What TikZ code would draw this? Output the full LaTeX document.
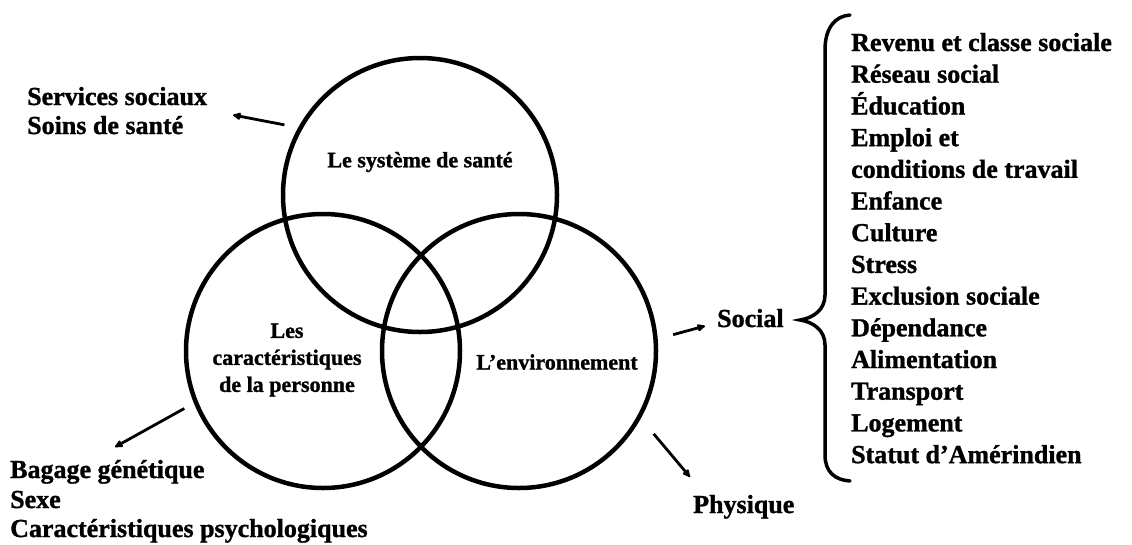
\documentclass[tikz,border=0pt]{standalone}
\usepackage{fontspec}
\setmainfont[BoldFeatures={FakeBold=1.2}]{Liberation Serif}
\usetikzlibrary{arrows.meta}
\begin{document}
\begin{tikzpicture}[x=1pt,y=-1pt,
  ring/.style={circle, draw, line width=4.5pt, minimum size=274pt, inner sep=0pt},
  lbl/.style={font=\fontsize{26}{31}\selectfont\bfseries, inner sep=0pt, anchor=base west},
  inlbl/.style={font=\fontsize{22}{27}\selectfont\bfseries, inner sep=0pt, align=center},
  ptr/.style={line width=2.8pt, -{Latex[length=10pt,width=9pt,round]}},
]
\useasboundingbox (0,0) rectangle (1132,544);

% the three overlapping domains
\node[ring] (sys)  at (420,195) {};
\node[ring] (pers) at (323,351) {};
\node[ring] (env)  at (519,351) {};

\node[inlbl] (lsys)  at (420,162) {Le système de santé};
\node[inlbl] (lpers) at (287,360) {Les\\caractéristiques\\de la personne};
\node[inlbl] (lenv)  at (557,362) {L’environnement};

% outer labels
\node[lbl] (serv)  at (27,105) {Services sociaux};
\node[lbl] (soins) at (27,134) {Soins de santé};
\node[lbl] (bag)   at (10,478) {Bagage génétique};
\node[lbl] (sexe)  at (10,508) {Sexe};
\node[lbl] (carac) at (10,537) {Caractéristiques psychologiques};
\node[lbl] (social) at (717,327) {Social};
\node[lbl] (phys)  at (693,513) {Physique};

% social determinants
\foreach \t [count=\i] in {Revenu et classe sociale, Réseau social, Éducation,
  Emploi et, conditions de travail, Enfance, Culture, Stress,
  Exclusion sociale, Dépendance, Alimentation, Transport, Logement,
  Statut d’Amérindien}
  \node[lbl] (item\i) at (851,{51+31.7*(\i-1)}) {\t};

% pointer ends
\coordinate (servtip) at (233,115);
\coordinate (bagtip)  at (115,447);
\coordinate (soctip)  at (705,326);
\coordinate (phystip) at (690,477);

\draw[ptr, shorten <=14pt] (sys.151) -- (servtip);
\draw[ptr, shorten <=11pt] (pers.202) -- (bagtip);
\draw[ptr, shorten <=16pt] (env.5) -- (soctip);
\draw[ptr, shorten <=20pt] (env.-29) -- (phystip);

% curly brace
\coordinate (bracetip) at (800,320);
\draw[line width=3.5pt, line cap=round]
  (850,15) .. controls (835,16) and (825,28) .. (825,50) -- (825,295)
  .. controls (825,310) and (813,318) .. (bracetip)
  .. controls (813,322) and (825,330) .. (825,345) -- (825,455)
  .. controls (825,472) and (835,480) .. (850,481);
\end{tikzpicture}
\end{document}
